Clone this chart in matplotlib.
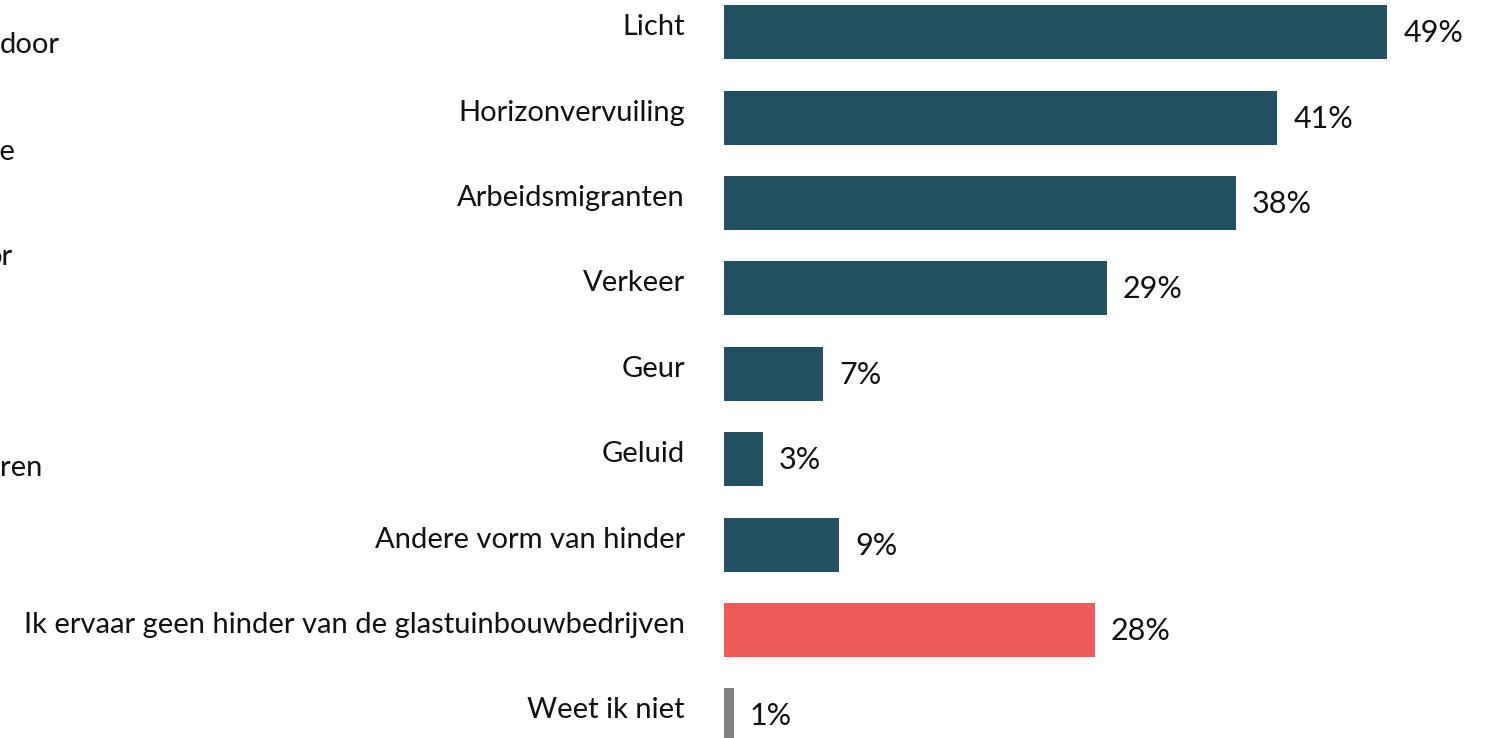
import matplotlib
matplotlib.use("Agg")
import matplotlib.pyplot as plt

categories = [
    "Licht",
    "Horizonvervuiling",
    "Arbeidsmigranten",
    "Verkeer",
    "Geur",
    "Geluid",
    "Andere vorm van hinder",
    "Ik ervaar geen hinder van de glastuinbouwbedrijven",
    "Weet ik niet",
]
values = [49.4, 41.2, 38.1, 28.52, 7.4, 2.9, 8.6, 27.6, 0.72]
value_labels = ["49%", "41%", "38%", "29%", "7%", "3%", "9%", "28%", "1%"]
colors = ["#245161"] * 7 + ["#EC5A5A", "#808080"]

# fragments of neighbouring text at the left edge
fragments = ["door", "de", "or", "ren"]
fragment_pos = [(0, 45, "left"), (16, 152, "right"), (13, 257, "right"), (0, 468, "left")]

plt.rcParams["font.family"] = ["Lato", "DejaVu Sans"]

W, H = 1491, 738
fig = plt.figure(figsize=(W / 100, H / 100), dpi=100)
ax = fig.add_axes([724 / W, 0, (W - 724) / W, 1])

px_per_unit = 13.43
ax.set_xlim(0, (W - 724) / px_per_unit)
pitch = 85.4
first = 32.2
ax.set_ylim((H - first) / pitch, -first / pitch)

y = list(range(len(categories)))
ax.barh(y, values, height=0.63, color=colors, left=0)

fs = 21
for i, (v, lab, cat) in enumerate(zip(values, value_labels, categories)):
    ax.text(v + 16 / px_per_unit, i + 1 / pitch, lab, va="center", ha="left",
            fontsize=fs + 1, color="#111111")
    ax.text(-39 / px_per_unit, i - 5 / pitch, cat, va="center", ha="right",
            fontsize=fs, color="#111111", clip_on=False)

for t, (xp, yp, ha) in zip(fragments, fragment_pos):
    fig.text(xp / W, 1 - yp / H, t, ha=ha, va="center", fontsize=fs,
             color="#111111")

ax.axis("off")
fig.savefig("out.png", dpi=100)
